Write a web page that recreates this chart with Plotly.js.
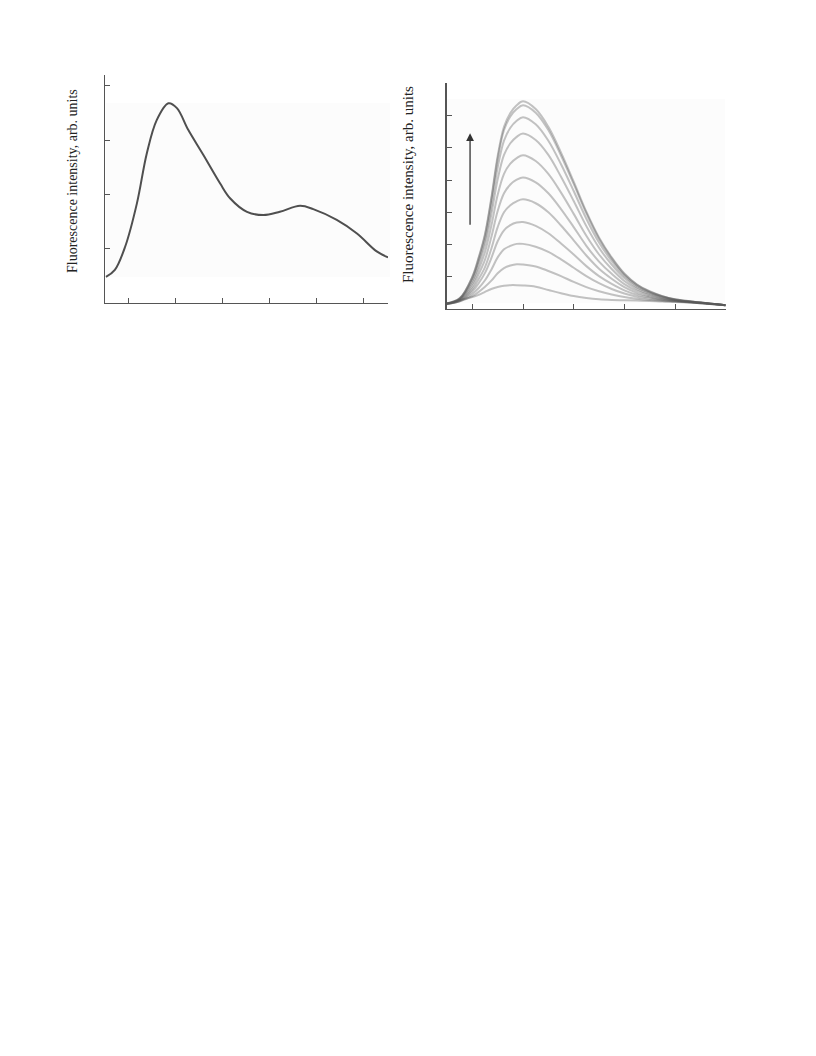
<!DOCTYPE html>
<html>
<head>
<meta charset="utf-8">
<script src="https://cdn.plot.ly/plotly-3.0.1.min.js"></script>
<style>html,body{margin:0;padding:0;background:#fff}#chart{width:816px;height:1056px}</style>
</head>
<body>
<div id="chart"></div>
<script>
// ---- Left panel: single emission spectrum (arbitrary units, tick-index x) ----
const leftX = [0.53, 0.72, 0.94, 1.19, 1.40, 1.61, 1.86, 2.04, 2.28, 2.60, 2.96, 3.17, 3.53, 3.88, 4.23, 4.66, 4.94, 5.44, 5.87, 6.29, 6.53];
const leftY = [0.48, 0.61, 1.04, 1.84, 2.76, 3.37, 3.68, 3.59, 3.19, 2.73, 2.20, 1.93, 1.68, 1.62, 1.68, 1.79, 1.73, 1.53, 1.28, 0.95, 0.84];

// ---- Right panel: family of spectra, growing in the arrow direction ----
const rightX = [0.49, 0.75, 1.0, 1.125, 1.25, 1.375, 1.5, 1.625, 1.75, 1.875, 2.0, 2.25, 2.5, 2.75, 3.0, 3.25, 3.5, 3.75, 4.0, 4.25, 4.5, 4.75, 5.0, 5.5, 6.0];
const c1  = [0.15, 0.27, 0.37, 0.44, 0.53, 0.62, 0.68, 0.72, 0.74, 0.74, 0.73, 0.69, 0.59, 0.49, 0.40, 0.34, 0.30, 0.28, 0.27, 0.26, 0.25, 0.23, 0.22, 0.18, 0.12];
const c2  = [0.15, 0.24, 0.40, 0.53, 0.69, 0.88, 1.11, 1.27, 1.35, 1.39, 1.38, 1.32, 1.18, 1.02, 0.84, 0.68, 0.55, 0.45, 0.37, 0.32, 0.28, 0.25, 0.23, 0.18, 0.12];
const c3  = [0.16, 0.24, 0.47, 0.65, 0.89, 1.22, 1.60, 1.85, 1.96, 2.02, 2.02, 1.93, 1.77, 1.54, 1.28, 1.02, 0.80, 0.62, 0.48, 0.38, 0.32, 0.27, 0.24, 0.18, 0.12];
const c4  = [0.16, 0.25, 0.55, 0.80, 1.12, 1.58, 2.10, 2.44, 2.60, 2.68, 2.70, 2.58, 2.35, 2.03, 1.69, 1.33, 1.02, 0.78, 0.58, 0.44, 0.36, 0.29, 0.25, 0.19, 0.12];
const c5  = [0.16, 0.27, 0.62, 0.93, 1.30, 1.87, 2.54, 3.00, 3.22, 3.34, 3.40, 3.28, 3.00, 2.59, 2.13, 1.66, 1.25, 0.94, 0.68, 0.50, 0.39, 0.31, 0.26, 0.19, 0.12];
const c6  = [0.16, 0.28, 0.70, 1.08, 1.53, 2.23, 3.04, 3.59, 3.86, 4.01, 4.08, 3.93, 3.59, 3.10, 2.54, 1.96, 1.47, 1.09, 0.77, 0.56, 0.43, 0.33, 0.27, 0.19, 0.12];
const c7  = [0.16, 0.30, 0.79, 1.23, 1.77, 2.58, 3.54, 4.19, 4.51, 4.68, 4.77, 4.59, 4.19, 3.61, 2.95, 2.27, 1.69, 1.24, 0.87, 0.62, 0.46, 0.35, 0.28, 0.19, 0.12];
const c8  = [0.17, 0.31, 0.87, 1.38, 1.99, 2.93, 4.02, 4.78, 5.14, 5.34, 5.44, 5.24, 4.78, 4.10, 3.35, 2.57, 1.90, 1.38, 0.96, 0.67, 0.50, 0.37, 0.29, 0.20, 0.12];
const c9  = [0.17, 0.32, 0.94, 1.49, 2.16, 3.20, 4.39, 5.22, 5.62, 5.84, 5.95, 5.73, 5.22, 4.49, 3.66, 2.80, 2.06, 1.49, 1.03, 0.72, 0.52, 0.39, 0.29, 0.20, 0.12];
const c10 = [0.17, 0.33, 0.99, 1.57, 2.29, 3.39, 4.66, 5.55, 5.97, 6.20, 6.32, 6.09, 5.55, 4.76, 3.88, 2.97, 2.18, 1.57, 1.08, 0.75, 0.54, 0.40, 0.30, 0.20, 0.12];
const c11 = [0.17, 0.33, 1.00, 1.60, 2.33, 3.45, 4.75, 5.65, 6.08, 6.32, 6.44, 6.20, 5.65, 4.85, 3.95, 3.02, 2.22, 1.60, 1.10, 0.76, 0.55, 0.40, 0.30, 0.20, 0.12];
const rightSeries = [c1, c2, c3, c4, c5, c6, c7, c8, c9, c10, c11];

const leftTicks = [1, 2, 3, 4, 5, 6];
const leftYTicks = [1, 2, 3, 4];
const rightTicks = [1, 2, 3, 4, 5, 6];
const rightYTicks = [1, 2, 3, 4, 5, 6, 7];
const yTitle = 'Fluorescence intensity, arb. units';

const W = 816, H = 1056;
const px = v => v / W;
const py = v => 1 - v / H;

const traces = [{
  x: leftX, y: leftY, xaxis: 'x', yaxis: 'y', type: 'scatter', mode: 'lines',
  line: {color: '#4f4f4f', width: 2, shape: 'spline', smoothing: 1},
  hoverinfo: 'skip', showlegend: false
}];
rightSeries.forEach(s => traces.push({
  x: rightX, y: s, xaxis: 'x2', yaxis: 'y2', type: 'scatter', mode: 'lines',
  line: {color: 'rgba(90,90,90,0.36)', width: 2, shape: 'spline', smoothing: 1},
  hoverinfo: 'skip', showlegend: false
}));

const axisCommon = {
  showline: true, linecolor: '#555', linewidth: 1.4, showgrid: false, zeroline: false,
  ticks: 'inside', ticklen: 5, tickwidth: 1, tickcolor: '#555', showticklabels: false, fixedrange: true
};

const layout = {
  width: W, height: H, margin: {l: 0, r: 0, t: 0, b: 0},
  paper_bgcolor: '#fff', plot_bgcolor: 'rgba(0,0,0,0)', showlegend: false,
  font: {family: 'Liberation Serif, Times New Roman, serif', color: '#222'},
  xaxis: Object.assign({}, axisCommon, {domain: [px(105), px(388)], range: [0.51, 6.53], tickvals: leftTicks, anchor: 'y'}),
  yaxis: Object.assign({}, axisCommon, {domain: [py(303), py(75)], range: [0, 4.2], tickvals: leftYTicks, anchor: 'x'}),
  xaxis2: Object.assign({}, axisCommon, {domain: [px(446.5), px(725.7)], range: [0.49, 6.0], tickvals: rightTicks, anchor: 'y2'}),
  yaxis2: Object.assign({}, axisCommon, {domain: [py(309), py(83.3)], range: [0, 7], tickvals: rightYTicks, anchor: 'x2'}),
  shapes: [
    {type: 'rect', xref: 'paper', yref: 'paper', x0: px(106), x1: px(390), y0: py(277), y1: py(103), fillcolor: '#fcfcfc', line: {width: 0}, layer: 'below'},
    {type: 'rect', xref: 'paper', yref: 'paper', x0: px(447), x1: px(725), y0: py(303), y1: py(99), fillcolor: '#fcfcfc', line: {width: 0}, layer: 'below'}
  ],
  annotations: [
    {text: yTitle, xref: 'paper', yref: 'paper', x: px(72), y: py(181), textangle: -90, showarrow: false,
     font: {size: 14, family: 'Liberation Serif, serif', color: '#222'}, xanchor: 'center', yanchor: 'middle'},
    {text: yTitle, xref: 'paper', yref: 'paper', x: px(408), y: py(185), textangle: -90, showarrow: false,
     font: {size: 15, family: 'Liberation Serif, serif', color: '#222'}, xanchor: 'center', yanchor: 'middle'},
    {text: '', xref: 'x2', yref: 'y2', x: 0.955, y: 5.45, axref: 'x2', ayref: 'y2', ax: 0.955, ay: 2.57,
     showarrow: true, arrowhead: 2, arrowsize: 1.2, arrowwidth: 1.3, arrowcolor: '#333'}
  ]
};

Plotly.newPlot('chart', traces, layout, {staticPlot: true, displayModeBar: false});
</script>
</body>
</html>
